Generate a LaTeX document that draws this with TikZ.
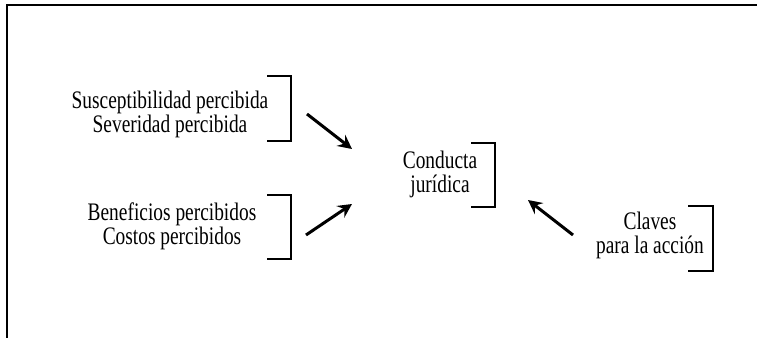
\documentclass[tikz,border=0pt]{standalone}
\usepackage{fontspec}
\setmainfont{Liberation Serif}
\usetikzlibrary{arrows.meta}

\begin{document}
\begin{tikzpicture}[x=0.5pt, y=-0.5pt,
    label/.style={align=center, inner sep=0pt, yscale=1.3, font=\fontsize{9.7}{9.2}\selectfont},
    bracket/.style={line width=0.9pt},
    push/.style={line width=1.5pt, -{Stealth[length=7pt, width=7pt, inset=2.5pt]}}]
    \useasboundingbox (0,0) rectangle (757,338);

    % Frame
    \draw[line width=0.8pt] (7,338) -- (7,5) -- (757,5);

    % Labels
    \node[label] (threat) at (170,114) {Susceptibilidad percibida\\Severidad percibida};
    \node[label] (balance) at (172,226) {Beneficios percibidos\\Costos percibidos};
    \node[label] (conduct) at (440,174) {Conducta\\jurídica};
    \node[label] (cues) at (650,235) {Claves\\para la acción};

    % Brackets
    \draw[bracket] (267,76) -- (291,76) -- (291,141) -- (267,141);
    \draw[bracket] (267,195) -- (291,195) -- (291,259) -- (267,259);
    \draw[bracket] (471,143) -- (495,143) -- (495,207) -- (471,207);
    \draw[bracket] (688,206) -- (713,206) -- (713,271) -- (688,271);

    % Arrows
    \coordinate (threat-out) at (307,114);
    \coordinate (balance-out) at (306,235);
    \coordinate (cues-out) at (573,235);
    \coordinate (conduct-in1) at (352,149);
    \coordinate (conduct-in2) at (352,204);
    \coordinate (conduct-in3) at (528,200);
    \draw[push] (threat-out) -- (conduct-in1);
    \draw[push] (balance-out) -- (conduct-in2);
    \draw[push] (cues-out) -- (conduct-in3);
\end{tikzpicture}
\end{document}
